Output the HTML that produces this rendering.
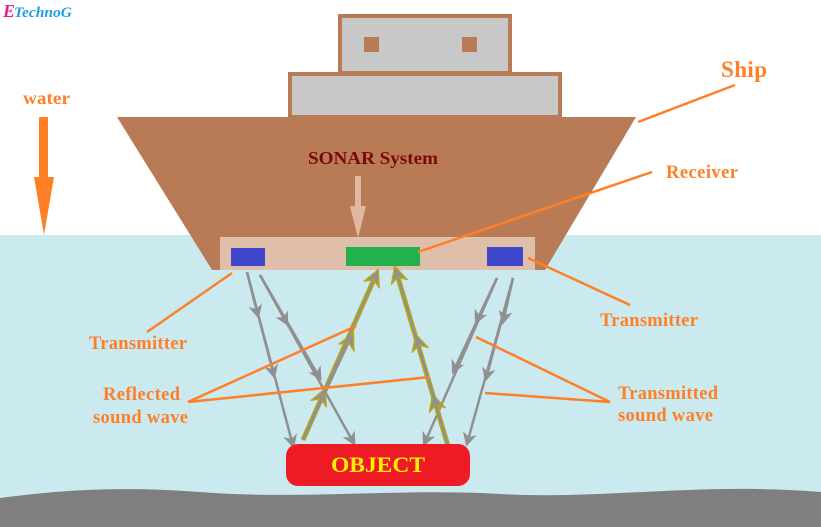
<!DOCTYPE html>
<html><head><style>body{margin:0}svg{display:block}</style></head><body>
<svg width="821" height="527" xmlns="http://www.w3.org/2000/svg" font-family="Liberation Serif, serif">
<defs>
<marker id="g" markerWidth="14" markerHeight="14" refX="7" refY="7" orient="auto" markerUnits="userSpaceOnUse"><path d="M0,0 L14,7 L0,14 L4,7Z" fill="#909090"/></marker>
<marker id="y" markerWidth="18" markerHeight="18" refX="9" refY="9" orient="auto" markerUnits="userSpaceOnUse"><path d="M1,1 L17,9 L1,17 L6,9Z" fill="#909090" stroke="#b8a818" stroke-width="1.5"/></marker>
</defs>
<rect width="821" height="527" fill="#fff"/>
<rect y="235" width="821" height="292" fill="#cbeaf0"/>
<path d="M0,498 C60,490 120,486 200,492 C300,500 400,488 500,494 C600,500 700,482 821,492 L821,527 L0,527Z" fill="#7f7f7f"/>
<rect x="340" y="16" width="170" height="57" fill="#c8c8c8" stroke="#b97b56" stroke-width="4"/>
<rect x="364" y="37" width="15" height="15" fill="#b97b56"/>
<rect x="462" y="37" width="15" height="15" fill="#b97b56"/>
<rect x="290" y="74" width="270" height="43" fill="#c8c8c8" stroke="#b97b56" stroke-width="4"/>
<path d="M117,117 L636,117 L545,270 L212,270Z" fill="#b97b56"/>
<rect x="220" y="237" width="315" height="33" fill="#dfbeaa"/>
<rect x="231" y="248" width="34" height="18" fill="#3f48cc"/>
<rect x="487" y="247" width="36" height="19" fill="#3f48cc"/>
<rect x="346" y="247" width="74" height="19" fill="#22b14c"/>
<text x="308" y="164" font-size="18" font-weight="bold" fill="#7a0a0a" textLength="130" lengthAdjust="spacingAndGlyphs">SONAR System</text>
<path d="M355,176 h6 v30 h5 l-8,32 l-8,-32 h5z" fill="#e0b8a0"/>
<path d="M39,117 h9 v60 h6 l-10,58 l-10,-58 h5z" fill="#ff7f27"/>
<text x="23" y="104" font-size="18" font-weight="bold" fill="#ff7f27" textLength="47" lengthAdjust="spacingAndGlyphs">water</text>
<text x="3" y="17" font-size="18" font-weight="bold" font-style="italic" fill="#e91e8c">E</text>
<text x="14" y="17" font-size="15" font-weight="bold" font-style="italic" fill="#1ea0e0" textLength="58" lengthAdjust="spacingAndGlyphs">TechnoG</text>
<g stroke="#909090" stroke-width="2.5" fill="none">
<line x1="247" y1="272" x2="257" y2="312" marker-end="url(#g)"/><line x1="247" y1="272" x2="273" y2="372" marker-end="url(#g)"/><line x1="247" y1="272" x2="292" y2="442" marker-end="url(#g)"/>
<line x1="260" y1="275" x2="285" y2="320" marker-end="url(#g)"/><line x1="260" y1="275" x2="318" y2="375" marker-end="url(#g)"/><line x1="260" y1="275" x2="352" y2="440" marker-end="url(#g)"/>
<line x1="497" y1="278" x2="478" y2="318" marker-end="url(#g)"/><line x1="497" y1="278" x2="455" y2="368" marker-end="url(#g)"/><line x1="497" y1="278" x2="426" y2="440" marker-end="url(#g)"/>
<line x1="513" y1="278" x2="504" y2="318" marker-end="url(#g)"/><line x1="513" y1="278" x2="487" y2="375" marker-end="url(#g)"/><line x1="513" y1="278" x2="468" y2="440" marker-end="url(#g)"/>
</g>
<g stroke="#b8a818" stroke-width="5" fill="none"><line x1="303" y1="440" x2="375" y2="277"/><line x1="448" y1="446" x2="397" y2="274"/></g>
<g stroke="#909090" stroke-width="2" fill="none">
<line x1="303" y1="440" x2="322" y2="396" marker-end="url(#y)"/><line x1="303" y1="440" x2="350" y2="340" marker-end="url(#y)"/><line x1="303" y1="440" x2="375" y2="277" marker-end="url(#y)"/>
<line x1="448" y1="446" x2="435" y2="402" marker-end="url(#y)"/><line x1="448" y1="446" x2="418" y2="342" marker-end="url(#y)"/><line x1="448" y1="446" x2="397" y2="274" marker-end="url(#y)"/>
</g>
<rect x="286" y="444" width="184" height="42" rx="12" fill="#ed1c24"/>
<text x="331" y="472" font-size="22" font-weight="bold" fill="#ffef00" textLength="94" lengthAdjust="spacingAndGlyphs">OBJECT</text>
<g stroke="#ff7f27" stroke-width="2.5" fill="none">
<line x1="735" y1="85" x2="638" y2="122"/>
<line x1="652" y1="172" x2="418" y2="252"/>
<line x1="528" y1="258" x2="630" y2="305"/>
<line x1="232" y1="273" x2="147" y2="332"/>
<line x1="188" y1="402" x2="356" y2="326"/>
<line x1="188" y1="402" x2="430" y2="377"/>
<line x1="610" y1="402" x2="476" y2="337"/>
<line x1="610" y1="402" x2="485" y2="393"/>
</g>
<g font-size="18.5" font-weight="bold" fill="#ff7f27" lengthAdjust="spacingAndGlyphs">
<text x="721" y="77" font-size="23" textLength="46">Ship</text>
<text x="666" y="178" textLength="72">Receiver</text>
<text x="600" y="326" textLength="98">Transmitter</text>
<text x="89" y="349" textLength="98">Transmitter</text>
<text x="103" y="400" textLength="77">Reflected</text>
<text x="93" y="423" textLength="95">sound wave</text>
<text x="618" y="399" textLength="100">Transmitted</text>
<text x="618" y="421" textLength="95">sound wave</text>
</g>
</svg>
</body></html>
